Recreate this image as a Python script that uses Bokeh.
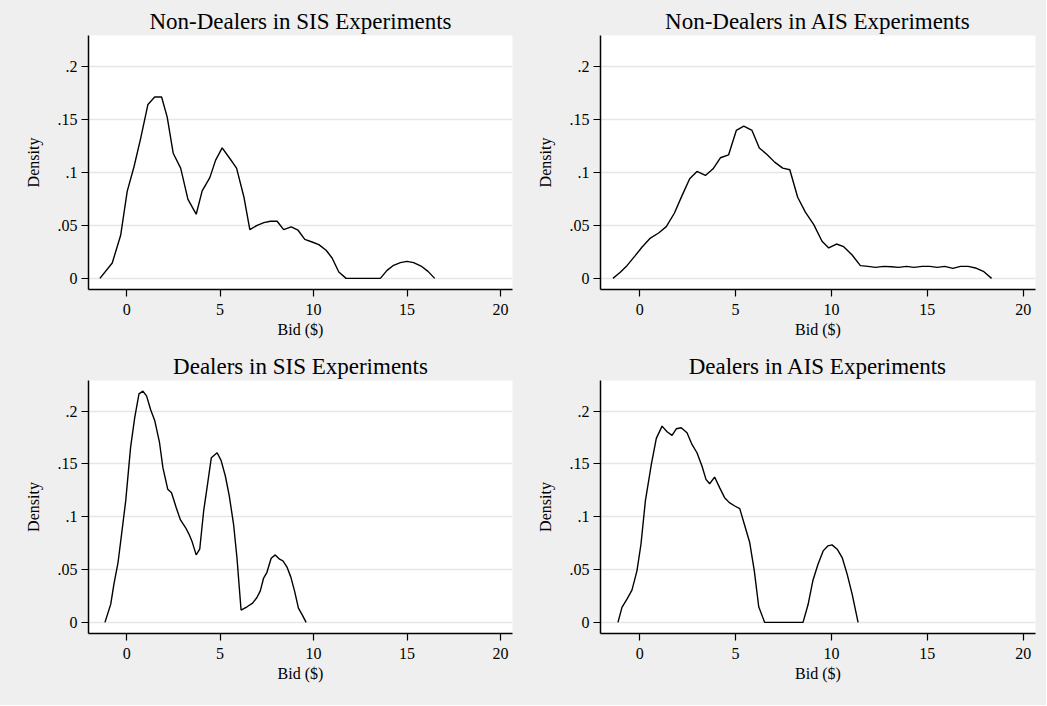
from bokeh.plotting import figure
from bokeh.layouts import column, row
from bokeh.models import FixedTicker
from bokeh.embed import file_html
from bokeh.resources import INLINE

# ---- data ----
titles = ["Non-Dealers in SIS Experiments", "Non-Dealers in AIS Experiments",
          "Dealers in SIS Experiments", "Dealers in AIS Experiments"]
x_ticks = [0, 5, 10, 15, 20]
y_ticks = [0, 0.05, 0.1, 0.15, 0.2]
y_tick_labels = ["0", ".05", ".1", ".15", ".2"]
x_label = "Bid ($)"
y_label = "Density"

nd_sis_x = [-1.43, -0.77, -0.32, 0.03, 0.39, 0.75, 1.14, 1.50, 1.87, 2.17, 2.49, 2.89, 3.28, 3.72,
            4.04, 4.45, 4.76, 5.11, 5.52, 5.88, 6.27, 6.59, 6.98, 7.34, 7.69, 8.05, 8.40, 8.80,
            9.17, 9.53, 9.92, 10.28, 10.67, 10.99, 11.35, 11.74, 13.57, 13.93, 14.28, 14.64,
            15.00, 15.35, 15.75, 16.12, 16.48]
nd_sis_y = [0.0, 0.0145, 0.0406, 0.082, 0.105, 0.132, 0.164, 0.171, 0.171, 0.152, 0.118, 0.104,
            0.0744, 0.0605, 0.0825, 0.095, 0.1115, 0.123, 0.113, 0.104, 0.077, 0.046, 0.050,
            0.0526, 0.0539, 0.0539, 0.046, 0.0485, 0.0454, 0.0368, 0.0343, 0.0318, 0.0265,
            0.0192, 0.006, 0.0, 0.0, 0.0075, 0.0123, 0.0148, 0.016, 0.0148, 0.0116, 0.0066, 0.0]

nd_ais_x = [-1.39, -1.01, -0.66, -0.23, 0.12, 0.56, 0.99, 1.39, 1.81, 2.21, 2.61, 2.99, 3.43, 3.83,
            4.21, 4.64, 5.04, 5.43, 5.86, 6.24, 6.64, 7.04, 7.46, 7.83, 8.24, 8.64, 9.08, 9.51,
            9.86, 10.26, 10.64, 11.08, 11.51, 11.91, 12.30, 12.73, 13.13, 13.51, 13.91, 14.30,
            14.73, 15.13, 15.51, 15.91, 16.33, 16.73, 17.13, 17.51, 17.95, 18.35]
nd_ais_y = [0.0, 0.0057, 0.012, 0.0214, 0.0293, 0.038, 0.0428, 0.0488, 0.0614, 0.078, 0.0939,
            0.1008, 0.097, 0.1033, 0.1137, 0.1165, 0.1395, 0.1436, 0.1395, 0.123, 0.1168, 0.1096,
            0.1039, 0.1024, 0.0765, 0.0624, 0.0507, 0.035, 0.0287, 0.0324, 0.0299, 0.022, 0.012,
            0.0113, 0.0104, 0.0113, 0.011, 0.0104, 0.0113, 0.0104, 0.0113, 0.0113, 0.0104,
            0.0113, 0.0094, 0.0113, 0.0113, 0.0098, 0.0063, 0.0]

d_sis_x = [-1.16, -0.85, -0.68, -0.46, -0.27, -0.05, 0.21, 0.43, 0.66, 0.87, 1.07, 1.28, 1.51,
           1.76, 1.94, 2.20, 2.40, 2.65, 2.88, 3.15, 3.32, 3.50, 3.72, 3.91, 4.12, 4.34, 4.53,
           4.84, 5.05, 5.28, 5.49, 5.72, 5.90, 6.12, 6.44, 6.74, 6.97, 7.15, 7.32, 7.50, 7.73,
           7.95, 8.18, 8.36, 8.57, 8.78, 8.98, 9.19, 9.40, 9.60]
d_sis_y = [0.0, 0.0173, 0.0362, 0.0567, 0.0835, 0.115, 0.1654, 0.1937, 0.2164, 0.2189, 0.2142,
           0.2016, 0.1906, 0.1701, 0.1465, 0.126, 0.1228, 0.1087, 0.097, 0.0898, 0.0841, 0.0765,
           0.0639, 0.0693, 0.1055, 0.1323, 0.1559, 0.1606, 0.1534, 0.1386, 0.1197, 0.0929,
           0.0614, 0.0117, 0.0148, 0.0183, 0.0236, 0.0299, 0.0416, 0.0472, 0.0608, 0.0639,
           0.0598, 0.0583, 0.0526, 0.0431, 0.0299, 0.0135, 0.0069, 0.0]

d_ais_x = [-1.13, -0.92, -0.66, -0.40, -0.14, 0.07, 0.30, 0.61, 0.87, 1.17, 1.43, 1.69, 1.91,
           2.17, 2.47, 2.73, 2.99, 3.25, 3.46, 3.65, 3.91, 4.17, 4.43, 4.68, 4.96, 5.22, 5.46,
           5.74, 5.98, 6.21, 6.52, 8.52, 8.78, 9.03, 9.30, 9.57, 9.81, 10.03, 10.30, 10.56,
           10.82, 11.08, 11.39]
d_ais_y = [0.0, 0.0142, 0.022, 0.0306, 0.0488, 0.074, 0.115, 0.1496, 0.1742, 0.1858, 0.1805,
           0.177, 0.1833, 0.1843, 0.1795, 0.1685, 0.1606, 0.148, 0.1354, 0.1313, 0.1376, 0.1276,
           0.1181, 0.1134, 0.1102, 0.1077, 0.0929, 0.0756, 0.0488, 0.0148, 0.0, 0.0, 0.0167,
           0.0394, 0.0551, 0.0677, 0.0724, 0.0734, 0.0693, 0.0614, 0.0457, 0.0268, 0.0]

FONT = "Liberation Serif"
BG = "#efefef"


def make(title, xs, ys, width, height, left, top, bottom, right, title_standoff):
    p = figure(width=width, height=height, x_range=(-2.04, 20.64), y_range=(-0.0105, 0.229),
               output_backend="svg", toolbar_location=None, title=title,
               min_border_left=left, min_border_right=right,
               min_border_top=top, min_border_bottom=bottom)
    p.title.align = "center"
    p.title.text_font = FONT
    p.title.text_font_size = "23px"
    p.title.text_font_style = "normal"
    p.title.text_color = "black"
    p.title.standoff = title_standoff
    p.title.text_line_height = 1.0
    p.background_fill_color = "white"
    p.border_fill_color = BG
    p.outline_line_color = None

    p.xgrid.visible = False
    p.ygrid.grid_line_color = "#e6e6e6"
    p.ygrid.grid_line_width = 1.5
    p.ygrid.ticker = FixedTicker(ticks=y_ticks)

    p.xaxis.ticker = FixedTicker(ticks=x_ticks)
    p.yaxis.ticker = FixedTicker(ticks=y_ticks)
    p.yaxis.major_label_overrides = {t: l for t, l in zip(y_ticks, y_tick_labels)}
    p.xaxis.axis_label = x_label
    p.yaxis.axis_label = y_label
    for ax in (p.xaxis, p.yaxis):
        ax.axis_line_color = "black"
        ax.axis_line_width = 1.5
        ax.major_tick_line_color = "black"
        ax.major_tick_line_width = 1.2
        ax.major_tick_out = 7
        ax.major_tick_in = 0
        ax.minor_tick_line_color = None
        ax.major_label_text_font = FONT
        ax.major_label_text_font_size = "16px"
        ax.major_label_text_color = "black"
        ax.axis_label_text_font = FONT
        ax.axis_label_text_font_size = "16px"
        ax.axis_label_text_font_style = "normal"
        ax.axis_label_text_color = "black"
    p.xaxis.major_label_standoff = 7
    p.xaxis.axis_label_standoff = 3
    p.yaxis.major_label_standoff = 4
    p.yaxis.axis_label_standoff = 13

    p.line(xs, ys, line_color="black", line_width=1.4)
    return p


p1 = make(titles[0], nd_sis_x, nd_sis_y, 520, 350, 88, 35, 61, 8, 4)
p2 = make(titles[1], nd_ais_x, nd_ais_y, 526, 350, 80, 35, 61, 11, 4)
p3 = make(titles[2], d_sis_x, d_sis_y, 520, 355, 88, 29, 72, 8, 3)
p4 = make(titles[3], d_ais_x, d_ais_y, 526, 355, 80, 29, 72, 11, 3)

layout = column(row(p1, p2, styles={"background-color": BG}),
                row(p3, p4, styles={"background-color": BG}),
                styles={"background-color": BG})

open("out.html", "w").write(file_html(layout, INLINE))
